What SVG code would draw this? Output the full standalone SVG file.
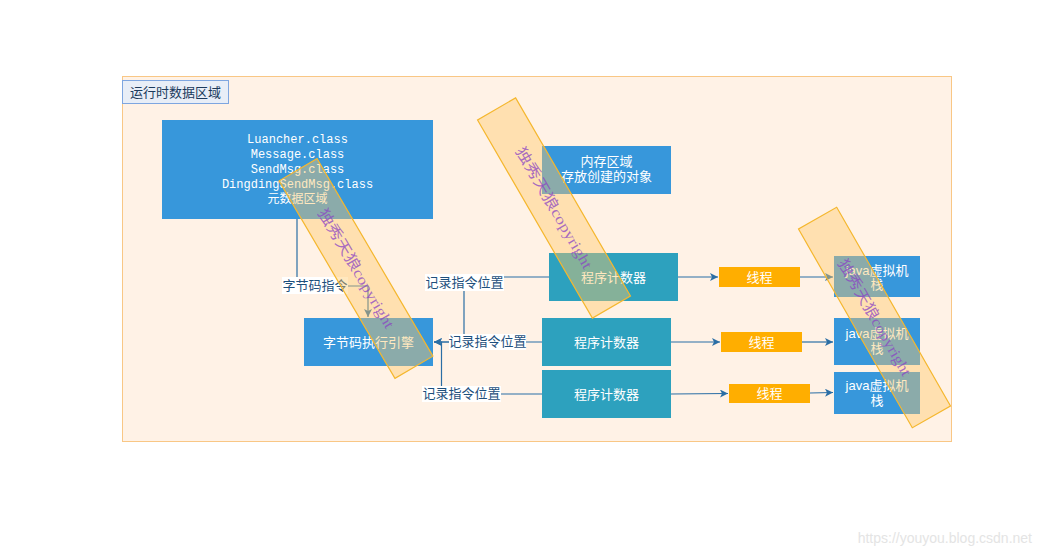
<svg xmlns="http://www.w3.org/2000/svg" width="1042" height="557" viewBox="0 0 1042 557">
<defs>
<style>
.cn{font-family:"Liberation Sans","Noto Sans CJK SC",sans-serif;font-size:13px;}
.wt{fill:#ffffff;text-anchor:middle;dominant-baseline:central;}
.mono{font-family:"Liberation Mono","Noto Sans CJK SC",monospace;font-size:12px;fill:#ffffff;text-anchor:middle;dominant-baseline:central;}
.blue{fill:#3797db;}
.teal{fill:#2da1be;}
.orange{fill:#ffae00;}
.lbl{fill:#1d4f7c;text-anchor:middle;dominant-baseline:central;}
.lblbg{fill:#ffffff;}
.edge{fill:none;stroke:#2b6ea5;stroke-width:1.2;}
.band{fill:#ffc766;fill-opacity:0.42;stroke:#f5b72e;stroke-width:1.2;}
.bandtxt{font-family:"Liberation Serif","Noto Sans CJK SC",serif;font-size:15px;fill:#8a44c4;fill-opacity:0.75;text-anchor:middle;dominant-baseline:central;}
</style>
<marker id="arr" markerWidth="10" markerHeight="10" refX="8" refY="4" orient="auto" markerUnits="userSpaceOnUse">
<path d="M0,0 L8,4 L0,8 L2,4 Z" fill="#2b6ea5"/>
</marker>
</defs>
<rect width="1042" height="557" fill="#ffffff"/>

<g id="container">
<rect x="122.5" y="76.5" width="829" height="365" fill="#fff2e6" stroke="#f9c785" stroke-width="1"/>
</g>
<g id="title">
<rect x="122.5" y="80.5" width="106" height="23" fill="#e8eef7" stroke="#7ea6e0" stroke-width="1"/>
<text class="cn" x="175.5" y="92" fill="#1b3a5c" text-anchor="middle" dominant-baseline="central">运行时数据区域</text>
</g>

<g id="connectors">
<path class="edge" d="M297,219 L297,286 L368,286 L368,317" marker-end="url(#arr)"/>
<path class="edge" d="M549,277 L464,277 L464,342 L434,342" marker-end="url(#arr)"/>
<path class="edge" d="M542,342 L434,342" marker-end="url(#arr)"/>
<path class="edge" d="M542,394 L441.5,394 L441.5,342 L434,342"/>
<path class="edge" d="M678,277 L718,277" marker-end="url(#arr)"/>
<path class="edge" d="M671,342 L720,342" marker-end="url(#arr)"/>
<path class="edge" d="M671,394 L728,393.5" marker-end="url(#arr)"/>
<path class="edge" d="M800,277 L833,277" marker-end="url(#arr)"/>
<path class="edge" d="M802,342 L833,342" marker-end="url(#arr)"/>
<path class="edge" d="M810,393 L833,392.5" marker-end="url(#arr)"/>
<rect class="lblbg" x="282" y="277" width="66" height="17"/>
<text class="cn lbl" x="315" y="285">字节码指令</text>
<rect class="lblbg" x="425" y="274" width="79" height="17"/>
<text class="cn lbl" x="464.5" y="282">记录指令位置</text>
<rect class="lblbg" x="449" y="334" width="77" height="16"/>
<text class="cn lbl" x="487.5" y="341.5">记录指令位置</text>
<rect class="lblbg" x="422" y="386" width="79" height="16"/>
<text class="cn lbl" x="461.5" y="393.5">记录指令位置</text>
</g>

<g id="metadata">
<rect class="blue" x="162" y="120" width="271" height="99"/>
<text class="mono" x="297.5" y="140">Luancher.class</text>
<text class="mono" x="297.5" y="155">Message.class</text>
<text class="mono" x="297.5" y="170">SendMsg.class</text>
<text class="mono" x="297.5" y="185">DingdingSendMsg.class</text>
<text class="mono" x="297.5" y="200">元数据区域</text>
</g>
<g id="memory">
<rect class="blue" x="542" y="146" width="129" height="48"/>
<text class="cn wt" x="606.5" y="161.5">内存区域</text>
<text class="cn wt" x="606.5" y="176.5">存放创建的对象</text>
</g>
<g id="engine">
<rect class="blue" x="304" y="318" width="129" height="48"/>
<text class="cn wt" x="368.5" y="342">字节码执行引擎</text>
</g>
<g id="pc1">
<rect class="teal" x="549" y="253" width="129" height="48"/>
<text class="cn wt" x="613.5" y="277">程序计数器</text>
</g>
<g id="pc2">
<rect class="teal" x="542" y="318" width="129" height="48"/>
<text class="cn wt" x="606.5" y="342">程序计数器</text>
</g>
<g id="pc3">
<rect class="teal" x="542" y="370" width="129" height="48"/>
<text class="cn wt" x="606.5" y="394">程序计数器</text>
</g>
<g id="thread1">
<rect class="orange" x="719" y="267" width="81" height="20"/>
<text class="cn wt" x="759.5" y="277">线程</text>
</g>
<g id="thread2">
<rect class="orange" x="721" y="332" width="81" height="20"/>
<text class="cn wt" x="761.5" y="342">线程</text>
</g>
<g id="thread3">
<rect class="orange" x="729" y="384" width="81" height="19"/>
<text class="cn wt" x="769.5" y="393.5">线程</text>
</g>
<g id="stack1">
<rect class="blue" x="834" y="256" width="86" height="41"/>
<text class="cn wt" x="877" y="270">java虚拟机</text>
<text class="cn wt" x="877" y="284">栈</text>
</g>
<g id="stack2">
<rect class="blue" x="834" y="318" width="86" height="47"/>
<text class="cn wt" x="877" y="333">java虚拟机</text>
<text class="cn wt" x="877" y="348">栈</text>
</g>
<g id="stack3">
<rect class="blue" x="834" y="372" width="86" height="42"/>
<text class="cn wt" x="877" y="385">java虚拟机</text>
<text class="cn wt" x="877" y="400">栈</text>
</g>

<g id="watermark1" transform="translate(356,268.5) rotate(59.6)">
<rect class="band" x="-114.5" y="-22" width="229" height="44"/>
<text class="bandtxt" x="0" y="0" textLength="136" lengthAdjust="spacingAndGlyphs">独秀天狼copyright</text>
</g>
<g id="watermark2" transform="translate(554,208) rotate(59.9)">
<rect class="band" x="-114.5" y="-22" width="229" height="44"/>
<text class="bandtxt" x="0" y="0" textLength="138" lengthAdjust="spacingAndGlyphs">独秀天狼copyright</text>
</g>
<g id="watermark3" transform="translate(874.5,317.5) rotate(60.2)">
<rect class="band" x="-114.5" y="-22" width="229" height="44"/>
<text class="bandtxt" x="0" y="0" textLength="132" lengthAdjust="spacingAndGlyphs">独秀天狼copyright</text>
</g>

<text x="1032" y="543" font-family="Liberation Sans, Arial, sans-serif" font-size="14" fill="#e4e4e4" text-anchor="end">https://youyou.blog.csdn.net</text>
</svg>
